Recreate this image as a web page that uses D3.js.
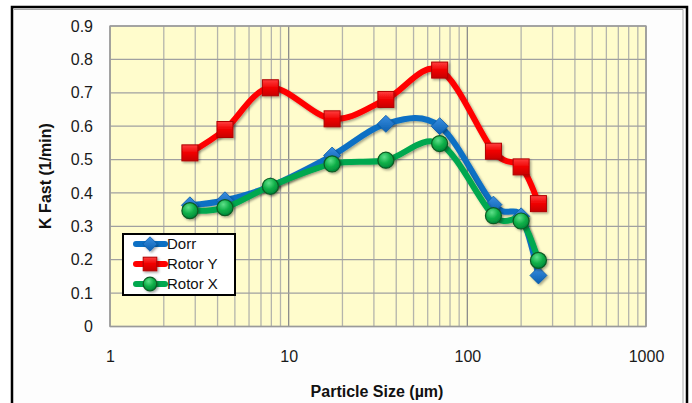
<!DOCTYPE html>
<html>
<head>
<meta charset="utf-8">
<script src="https://cdn.jsdelivr.net/npm/d3@7"></script>
<style>
  html, body { margin: 0; padding: 0; background: #ffffff; }
  svg { display: block; font-family: "Liberation Sans", Arial, sans-serif; }
</style>
</head>
<body>
<svg id="chart" width="692" height="403"></svg>
<script>
// Particle sizes (µm) at which K Fast was measured
const sizes  = [2.8, 4.4, 7.9, 17.5, 35, 70, 140, 200, 250];
// K Fast (1/min) per separator
const dorr   = [0.363, 0.378, 0.42, 0.512, 0.607, 0.60, 0.365, 0.33, 0.153];
const rotorY = [0.52, 0.59, 0.715, 0.622, 0.68, 0.768, 0.525, 0.478, 0.368];
const rotorX = [0.347, 0.356, 0.42, 0.487, 0.498, 0.548, 0.332, 0.316, 0.198];
const seriesNames = ["Dorr", "Rotor Y", "Rotor X"];
const yTicks = [0, 0.1, 0.2, 0.3, 0.4, 0.5, 0.6, 0.7, 0.8, 0.9];
const xTicks = [1, 10, 100, 1000];

const svg = d3.select("#chart");
const W = 692, H = 403;
const plot = { left: 110, right: 646, top: 26, bottom: 326.5 };

const x = d3.scaleLog().domain([1, 1000]).range([plot.left, plot.right]);
const y = d3.scaleLinear().domain([0, 0.9]).range([plot.bottom, plot.top]);

// ---------- defs: gradients and shadow ----------
const defs = svg.append("defs");
const redGrad = defs.append("linearGradient").attr("id", "redGrad")
  .attr("x1", 0).attr("y1", 0).attr("x2", 0).attr("y2", 1);
redGrad.append("stop").attr("offset", "0%").attr("stop-color", "#ff4040");
redGrad.append("stop").attr("offset", "50%").attr("stop-color", "#f00000");
redGrad.append("stop").attr("offset", "100%").attr("stop-color", "#c80000");

const greenGrad = defs.append("radialGradient").attr("id", "greenGrad")
  .attr("cx", "40%").attr("cy", "30%").attr("r", "70%");
greenGrad.append("stop").attr("offset", "0%").attr("stop-color", "#5fe08a");
greenGrad.append("stop").attr("offset", "55%").attr("stop-color", "#10b048");
greenGrad.append("stop").attr("offset", "100%").attr("stop-color", "#00883a");

const blueGrad = defs.append("linearGradient").attr("id", "blueGrad")
  .attr("x1", 0).attr("y1", 0).attr("x2", 0).attr("y2", 1);
blueGrad.append("stop").attr("offset", "0%").attr("stop-color", "#3a8ee0");
blueGrad.append("stop").attr("offset", "100%").attr("stop-color", "#0a5fb0");

const shadow = defs.append("filter").attr("id", "shadow")
  .attr("x", "-40%").attr("y", "-40%").attr("width", "180%").attr("height", "180%");
shadow.append("feDropShadow").attr("dx", 1.5).attr("dy", 1.5)
  .attr("stdDeviation", 1).attr("flood-color", "#000").attr("flood-opacity", 0.35);

// ---------- chart frame ----------
svg.append("rect").attr("x", 12).attr("y", 7).attr("width", 675).attr("height", 410)
  .attr("fill", "#fdfdfd").attr("stroke", "#000").attr("stroke-width", 2.5);
svg.append("path").attr("d", "M14,9.5 H683 V403")
  .attr("fill", "none").attr("stroke", "#a8a8a8").attr("stroke-width", 1);

// ---------- plot area ----------
svg.append("rect")
  .attr("x", plot.left).attr("y", plot.top)
  .attr("width", plot.right - plot.left).attr("height", plot.bottom - plot.top)
  .attr("fill", "#fffccc");

const grid = svg.append("g");
// vertical lines at every log tick
grid.selectAll("line.v").data(x.ticks()).enter().append("line")
  .attr("x1", d => x(d)).attr("x2", d => x(d))
  .attr("y1", plot.top).attr("y2", plot.bottom)
  .attr("stroke", d => (xTicks.includes(d) ? "#8c8c8c" : "#b4b4ac"))
  .attr("stroke-width", 1.3);
// horizontal lines at each y tick
grid.selectAll("line.h").data(yTicks).enter().append("line")
  .attr("x1", plot.left).attr("x2", plot.right)
  .attr("y1", d => y(d)).attr("y2", d => y(d))
  .attr("stroke", "#a0a0a0").attr("stroke-width", 1.3);
// plot outline
svg.append("rect")
  .attr("x", plot.left).attr("y", plot.top)
  .attr("width", plot.right - plot.left).attr("height", plot.bottom - plot.top)
  .attr("fill", "none").attr("stroke", "#9a9a9a").attr("stroke-width", 1.3);

// ---------- axes ----------
const yAxis = svg.append("g").attr("transform", `translate(${plot.left},0)`)
  .call(d3.axisLeft(y).tickValues(yTicks).tickSize(0).tickPadding(17)
    .tickFormat(d => (d === 0 ? "0" : d3.format(".1f")(d))));
yAxis.select(".domain").remove();
yAxis.selectAll("text").attr("font-size", 16).attr("fill", "#1a1a1a")
  .attr("font-family", "Liberation Sans, Arial, sans-serif");

const xAxis = svg.append("g").attr("transform", `translate(0,${plot.bottom})`)
  .call(d3.axisBottom(x).tickValues(xTicks).tickSize(0).tickPadding(24)
    .tickFormat(d3.format("d")));
xAxis.select(".domain").remove();
xAxis.selectAll("text").attr("font-size", 16).attr("fill", "#1a1a1a")
  .attr("font-family", "Liberation Sans, Arial, sans-serif");

// axis titles
svg.append("text").attr("x", 377).attr("y", 397)
  .attr("text-anchor", "middle").attr("font-weight", "bold").attr("font-size", 16)
  .attr("fill", "#111").text("Particle Size (µm)");
svg.append("text")
  .attr("transform", "translate(51,176) rotate(-90)")
  .attr("text-anchor", "middle").attr("font-weight", "bold").attr("font-size", 16)
  .attr("fill", "#111").text("K Fast (1/min)");

// ---------- series ----------
const series = [
  { name: seriesNames[0], values: dorr,   color: "#0b6fc4", marker: "diamond" },
  { name: seriesNames[1], values: rotorY, color: "#ff0000", marker: "square" },
  { name: seriesNames[2], values: rotorX, color: "#00a84f", marker: "circle" }
];

const line = d3.line()
  .x(d => x(d[0])).y(d => y(d[1]))
  .curve(d3.curveCardinal.tension(0));

function drawMarker(g, type, cx, cy, scale = 1) {
  if (type === "square") {
    const s = 16 * scale;
    g.append("rect").attr("x", cx - s / 2).attr("y", cy - s / 2)
      .attr("width", s).attr("height", s)
      .attr("fill", "url(#redGrad)").attr("stroke", "#b00000").attr("stroke-width", 1)
      .attr("filter", "url(#shadow)");
  } else if (type === "circle") {
    g.append("circle").attr("cx", cx).attr("cy", cy).attr("r", 8 * scale)
      .attr("fill", "url(#greenGrad)").attr("stroke", "#0a5a22").attr("stroke-width", 1.2)
      .attr("filter", "url(#shadow)");
  } else {
    const r = 8.5 * scale;
    g.append("path")
      .attr("d", `M${cx},${cy - r} L${cx + r},${cy} L${cx},${cy + r} L${cx - r},${cy} Z`)
      .attr("fill", "url(#blueGrad)").attr("stroke", "#0a5aa8").attr("stroke-width", 0.8)
      .attr("filter", "url(#shadow)");
  }
}

series.forEach(s => {
  const pts = sizes.map((v, i) => [v, s.values[i]]);
  const g = svg.append("g");
  g.append("path").datum(pts).attr("d", line)
    .attr("fill", "none").attr("stroke", s.color).attr("stroke-width", 6)
    .attr("stroke-linejoin", "round").attr("stroke-linecap", "round")
    .attr("filter", "url(#shadow)");
  pts.forEach(p => drawMarker(g, s.marker, x(p[0]), y(p[1])));
});

// ---------- legend ----------
const legend = svg.append("g");
legend.append("rect").attr("x", 123).attr("y", 234).attr("width", 112).attr("height", 61)
  .attr("fill", "#ffffff").attr("stroke", "#000").attr("stroke-width", 2);
series.forEach((s, i) => {
  const ly = 244 + i * 20;
  legend.append("line").attr("x1", 136).attr("x2", 165).attr("y1", ly).attr("y2", ly)
    .attr("stroke", s.color).attr("stroke-width", 6).attr("stroke-linecap", "round");
  drawMarker(legend, s.marker, 150, ly, 0.85);
  legend.append("text").attr("x", 167).attr("y", ly).attr("dy", "0.36em")
    .attr("font-size", 15).attr("fill", "#111").text(s.name);
});
</script>
</body>
</html>
